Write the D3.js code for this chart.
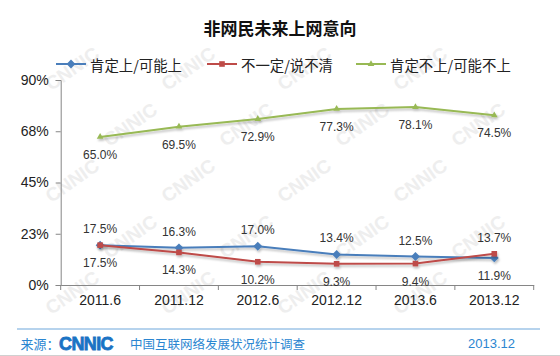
<!DOCTYPE html>
<html>
<head>
<meta charset="utf-8">
<script src="https://cdn.jsdelivr.net/npm/d3@7"></script>
<style>
html,body{margin:0;padding:0;background:#fff;}
svg{display:block;}
</style>
</head>
<body>
<svg id="chart" width="560" height="356"></svg>
<script>
const categories = ["2011.6","2011.12","2012.6","2012.12","2013.6","2013.12"];
const seriesNames = ["肯定上/可能上","不一定/说不清","肯定不上/可能不上"];
const sureYes = [17.5,16.3,17.0,13.4,12.5,11.9];
const notSure = [17.5,14.3,10.2,9.3,9.4,13.7];
const sureNo = [65.0,69.5,72.9,77.3,78.1,74.5];
const yTickValues = [0,22.5,45,67.5,90];
const yTickLabels = ["0%","23%","45%","68%","90%"];
const titleText = "非网民未来上网意向";
const sourceLabel = "来源：";
const sourceName = "中国互联网络发展状况统计调查";
const dateLabel = "2013.12";

const colors = ["#4a7ebb","#be4b48","#98b954"];
const allSeries = [sureYes, notSure, sureNo];

const svg = d3.select("#chart");
const W = 560, H = 356;
const cjk = "'Noto Sans CJK SC','Noto Sans',sans-serif";
const latin = "'Liberation Sans',Arial,sans-serif";

// watermark (only marks that fit inside the picture)
const wm = svg.append("g").attr("fill","#eeeeee").attr("font-family",latin)
  .attr("font-weight","bold").attr("font-size",19);
let row = 0;
for (let yy = 18; yy < H + 30; yy += 56, row++) {
  for (let xx = (row % 2 ? 0 : 58) - 40; xx < W + 40; xx += 116) {
    const t = wm.append("text").attr("transform",`translate(${xx},${yy}) rotate(-35)`)
      .attr("text-anchor","middle").text("CNNIC");
    const b = t.node().getBoundingClientRect();
    if (b.left < 1 || b.top < 1 || b.right > W - 1 || b.bottom > H - 1) t.remove();
  }
}

const x = d3.scaleBand().domain(categories).range([60.7, 533.7]).padding(0);
const y = d3.scaleLinear().domain([0,90]).range([285, 80]);
const cx = d => x(d) + x.bandwidth()/2;

// title
svg.append("text").attr("x",280).attr("y",27).attr("text-anchor","middle")
  .attr("dominant-baseline","central").attr("font-family",cjk).attr("font-weight","bold")
  .attr("font-size",17).attr("fill","#111").text(titleText);

// axes
const yAxis = d3.axisLeft(y).tickValues(yTickValues)
  .tickFormat((d,i) => yTickLabels[i]).tickSize(5).tickPadding(7);
const gy = svg.append("g").attr("transform","translate(60.7,0)").call(yAxis);
gy.select(".domain").attr("stroke","#868686");
gy.selectAll(".tick line").attr("stroke","#868686");
gy.selectAll(".tick text").attr("font-family",latin).attr("font-size",14).attr("fill","#222");

const xAxis = d3.axisBottom(x).tickSize(0).tickPadding(10);
const gx = svg.append("g").attr("transform","translate(0,285)").call(xAxis);
gx.select(".domain").attr("stroke","#868686");
gx.selectAll(".tick text").attr("font-family",latin).attr("font-size",14).attr("fill","#222")
  .attr("dy","0.71em");
const bounds = categories.map(c => x(c)).concat([x(categories[categories.length-1]) + x.bandwidth()]);
gx.selectAll(".btick").data(bounds).enter().append("line")
  .attr("x1",d=>d).attr("x2",d=>d).attr("y1",0).attr("y2",5).attr("stroke","#868686");

// shadow filter
const defs = svg.append("defs");
const f = defs.append("filter").attr("id","sh").attr("x","-20%").attr("y","-50%").attr("width","140%").attr("height","200%");
f.append("feDropShadow").attr("dx",1).attr("dy",2).attr("stdDeviation",1.2).attr("flood-color","#000").attr("flood-opacity",0.25);

const line = d3.line().x((d,i)=>cx(categories[i])).y(d=>y(d));

const markerPath = [
  d3.symbol().type(d3.symbolDiamond2).size(50),
  d3.symbol().type(d3.symbolSquare2).size(40),
  d3.symbol().type(d3.symbolTriangle2).size(32)
];

allSeries.forEach((vals, s) => {
  const g = svg.append("g").attr("filter","url(#sh)");
  g.append("path").datum(vals).attr("d",line).attr("fill","none")
    .attr("stroke",colors[s]).attr("stroke-width",2);
  g.selectAll("path.m").data(vals).enter().append("path").attr("class","m")
    .attr("transform",(d,i)=>`translate(${cx(categories[i])},${y(d)})`)
    .attr("d",markerPath[s]).attr("fill",colors[s]);
});

// data labels
const labels = svg.append("g").attr("font-family",latin).attr("font-size",12).attr("fill","#333")
  .attr("text-anchor","middle");
allSeries.forEach((vals, s) => {
  vals.forEach((v,i) => {
    let above;
    if (s === 2) above = false;
    else {
      const other = s === 0 ? notSure[i] : sureYes[i];
      above = s === 0 ? v >= other : v > other;
    }
    labels.append("text").attr("x",cx(categories[i]))
      .attr("y", y(v) + (above ? -16 : 18)).attr("dominant-baseline","central")
      .text(v.toFixed(1) + "%");
  });
});

// legend
const legendX = [56, 207, 356];
const lg = svg.append("g");
seriesNames.forEach((n,s) => {
  const g = lg.append("g").attr("transform",`translate(${legendX[s]},64)`);
  g.append("line").attr("x1",0).attr("x2",30).attr("stroke",colors[s]).attr("stroke-width",2);
  g.append("path").attr("transform","translate(15,0)").attr("d",markerPath[s]).attr("fill",colors[s]);
  g.append("text").attr("x",34).attr("dominant-baseline","central").attr("font-family",cjk)
    .attr("font-size",14.4).attr("fill","#222").text(n);
});

// footer
svg.append("line").attr("x1",17).attr("x2",540).attr("y1",329).attr("y2",329)
  .attr("stroke","#6fa8dc").attr("stroke-width",1.2);
svg.append("line").attr("x1",0).attr("x2",W).attr("y1",355.5).attr("y2",355.5)
  .attr("stroke","#d0d0d0").attr("stroke-width",1);
const blue = "#2b86d1";
svg.append("text").attr("x",20.5).attr("y",343).attr("dominant-baseline","central")
  .attr("font-family",cjk).attr("font-size",13).attr("fill",blue).text(sourceLabel);
svg.append("text").attr("x",59).attr("y",343.5).attr("dominant-baseline","central")
  .attr("font-family",latin).attr("font-weight","bold").attr("font-size",18)
  .attr("fill","#1a73c4").attr("stroke","#1a73c4").attr("stroke-width",0.8)
  .attr("letter-spacing",-0.6).text("CNNIC");
svg.append("text").attr("x",130).attr("y",343).attr("dominant-baseline","central")
  .attr("font-family",cjk).attr("font-size",12.5).attr("fill",blue).text(sourceName);
svg.append("text").attr("x",515).attr("y",343).attr("text-anchor","end").attr("dominant-baseline","central")
  .attr("font-family",latin).attr("font-size",13).attr("fill",blue).text(dateLabel);
</script>
</body>
</html>
